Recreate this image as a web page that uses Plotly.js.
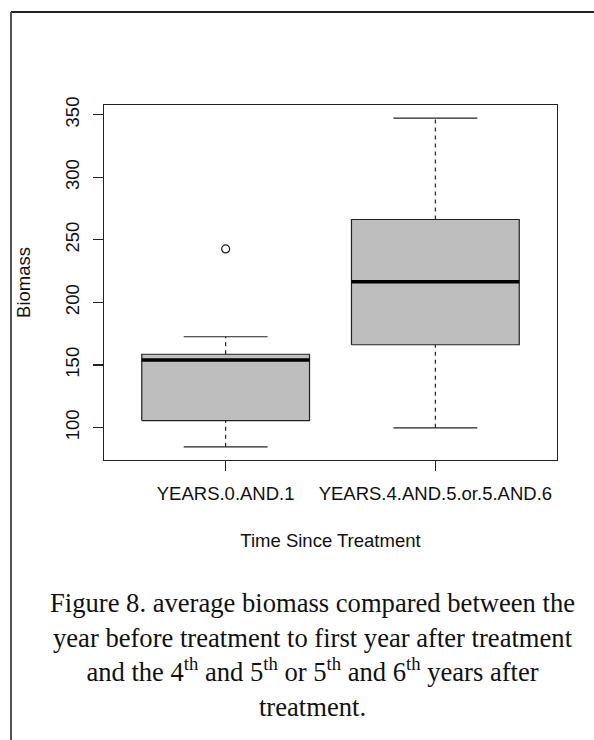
<!DOCTYPE html>
<html>
<head>
<meta charset="utf-8">
<script src="https://cdn.plot.ly/plotly-3.0.1.min.js"></script>
<style>
  html, body { margin: 0; padding: 0; background: #fff; }
  #chart { width: 594px; height: 740px; }
</style>
</head>
<body>
<div id="chart"></div>
<script>
// Biomass by time since treatment: five-number summaries plus outliers
const categories = ["YEARS.0.AND.1", "YEARS.4.AND.5.or.5.AND.6"];
const lowerWhisker = [84.6, 99.8];
const q1 = [105.6, 166.2];
const median = [154.0, 216.5];
const q3 = [158.6, 266.3];
const upperWhisker = [172.6, 347.3];
const outliers = [[242.8], []];
const yTicks = [100, 150, 200, 250, 300, 350];

const W = 594, H = 740;
const margin = { l: 104, r: 37, t: 105, b: 280 };
const plotW = W - margin.l - margin.r;
const plotH = H - margin.t - margin.b;
// pixel -> paper helpers for page furniture outside the plot area
const px = X => (X - margin.l) / plotW;
const py = Y => (H - margin.b - Y) / plotH;

const boxW = 0.8, capW = 0.4;
const ink = "#222";
const traces = [];

categories.forEach((cat, i) => {
  const c = i + 1;
  // box body
  traces.push({
    type: "scatter", mode: "lines", hoverinfo: "skip", showlegend: false,
    x: [c - boxW / 2, c + boxW / 2, c + boxW / 2, c - boxW / 2, c - boxW / 2],
    y: [q1[i], q1[i], q3[i], q3[i], q1[i]],
    fill: "toself", fillcolor: "#bebebe",
    line: { color: ink, width: 1.2 }
  });
  // dashed whiskers
  traces.push({
    type: "scatter", mode: "lines", hoverinfo: "skip", showlegend: false,
    x: [c, c, null, c, c],
    y: [lowerWhisker[i], q1[i], null, q3[i], upperWhisker[i]],
    line: { color: ink, width: 1.2, dash: "4px,4px" }
  });
  // whisker caps
  traces.push({
    type: "scatter", mode: "lines", hoverinfo: "skip", showlegend: false,
    x: [c - capW / 2, c + capW / 2, null, c - capW / 2, c + capW / 2],
    y: [lowerWhisker[i], lowerWhisker[i], null, upperWhisker[i], upperWhisker[i]],
    line: { color: ink, width: 1.2 }
  });
  // median bar
  traces.push({
    type: "scatter", mode: "lines", hoverinfo: "skip", showlegend: false,
    x: [c - boxW / 2, c + boxW / 2],
    y: [median[i], median[i]],
    line: { color: "#000", width: 3.5 }
  });
  // outliers
  if (outliers[i].length) {
    traces.push({
      type: "scatter", mode: "markers", hoverinfo: "skip", showlegend: false,
      x: outliers[i].map(() => c),
      y: outliers[i],
      marker: { symbol: "circle-open", size: 8, color: ink, line: { width: 1.2 } }
    });
  }
});

const allVals = lowerWhisker.concat(upperWhisker, ...outliers);
const lo = Math.min(...allVals), hi = Math.max(...allVals);
const pad = 0.04 * (hi - lo);
const xPad = 0.04 * categories.length;

const sans = "Liberation Sans, Arial, sans-serif";
const serif = "Liberation Serif, Times New Roman, serif";
const labelFont = { family: sans, size: 18.5, color: "#111" };

const layout = {
  width: W, height: H,
  margin: margin,
  paper_bgcolor: "#fff", plot_bgcolor: "#fff",
  showlegend: false,
  font: labelFont,
  xaxis: {
    range: [0.5 - xPad, categories.length + 0.5 + xPad],
    tickvals: categories.map((_, i) => i + 1),
    ticktext: categories,
    ticks: "outside", ticklen: 10, tickwidth: 1.2, tickcolor: ink,
    showline: true, mirror: true, linecolor: ink, linewidth: 1.2,
    showgrid: false, zeroline: false, fixedrange: true,
    tickfont: labelFont,
    ticklabelstandoff: 7,
    title: { text: "Time Since Treatment", font: labelFont, standoff: 30 }
  },
  yaxis: {
    range: [lo - pad, hi + pad],
    tickvals: yTicks,
    ticks: "outside", ticklen: 10, tickwidth: 1.2, tickcolor: ink,
    tickangle: -90,
    showline: true, mirror: true, linecolor: ink, linewidth: 1.2,
    showgrid: false, zeroline: false, fixedrange: true,
    tickfont: labelFont,
    ticklabelstandoff: 6,
    title: { text: "Biomass", font: labelFont, standoff: 27 }
  },
  shapes: [
    { type: "line", xref: "paper", yref: "paper", x0: px(11), x1: px(600), y0: py(12), y1: py(12),
      line: { color: "#222", width: 2 } },
    { type: "line", xref: "paper", yref: "paper", x0: px(11), x1: px(11), y0: py(12), y1: py(750),
      line: { color: "#555", width: 2 } }
  ],
  annotations: [{
    xref: "paper", yref: "paper",
    x: px(312.5), y: py(655), xanchor: "center", yanchor: "middle",
    showarrow: false, align: "center",
    font: { family: serif, size: 26.6, color: "#111" },
    text: "Figure 8. average biomass compared between the<br>" +
          "year before treatment to first year after treatment<br>" +
          "and the 4<sup>th</sup> and 5<sup>th</sup> or 5<sup>th</sup> and 6<sup>th</sup> years after<br>" +
          "treatment."
  }]
};

Plotly.newPlot("chart", traces, layout, { displayModeBar: false, staticPlot: true });
</script>
</body>
</html>
